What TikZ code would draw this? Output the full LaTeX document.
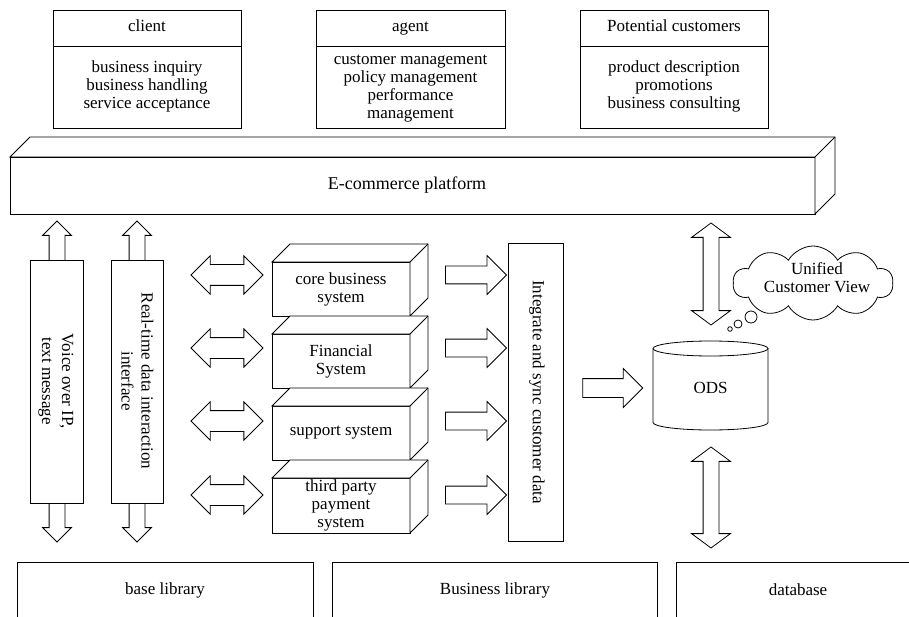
\documentclass[tikz,border=0pt]{standalone}
\usepackage{fontspec}
\setmainfont{Liberation Serif}
\usetikzlibrary{shapes.arrows,shapes.symbols}

% front face as a named node, top and right faces drawn from its anchors
\newcommand\prismbox[6]{%
  \node[frame, minimum width=#4, minimum height=#5] (#1) at (#2,#3) {};
  \draw[fill=white] (#1.north west) -- ++(#6,-#6) -- ++(#4,0) -- ++(0,#5)
        -- (#1.south east) -- (#1.north east) -- cycle;
  \draw (#1.north east) -- ++(#6,-#6);
}

\begin{document}
\begin{tikzpicture}[x=1pt, y=-1pt, line width=0.8pt,
  every node/.style={font=\fontsize{17pt}{18pt}\selectfont, align=center,
                     inner sep=0pt, outer sep=0pt},
  frame/.style={draw, fill=white},
  head/.style={anchor=base},
  vertlabel/.style={rotate=-90, font=\fontsize{17pt}{20pt}\selectfont},
  % block arrows: the shaft is half inner ysep wide on each side of the axis
  twoway/.style={draw, fill=white, double arrow, double arrow tip angle=90},
  oneway/.style={draw, fill=white, single arrow, single arrow tip angle=90},
]
\useasboundingbox (0,0) rectangle (909,617);

% ---- user groups ----
\node[frame, minimum width=188, minimum height=118] (client) at (147,69) {};
\draw (client.north west) ++(0,36) -- ++(188,0);
\node[head] (clientT) at (147,32) {client};
\node (clientB) at (147,86.5) {business inquiry\\business handling\\service acceptance};

\node[frame, minimum width=189, minimum height=118] (agent) at (410.5,69) {};
\draw (agent.north west) ++(0,36) -- ++(189,0);
\node[head] (agentT) at (410.5,32) {agent};
\node (agentB) at (410.5,89) {customer management\\policy management\\performance\\management};

\node[frame, minimum width=188, minimum height=118] (prospect) at (674,69) {};
\draw (prospect.north west) ++(0,36) -- ++(188,0);
\node[head] (prospectT) at (674,32) {Potential customers};
\node (prospectB) at (674,86.5) {product description\\promotions\\business consulting};

% ---- platform ----
\prismbox{platform}{412.5}{185.5}{805}{57}{20}
\node[font=\fontsize{18pt}{20pt}\selectfont] (platformT) at (407,185) {E-commerce platform};

% ---- channel arrows on the left ----
\node[twoway, rotate=90, minimum height=321, minimum width=28, inner ysep=7.5,
      double arrow head extend=6.5] (voipA) at (57,381.5) {};
\node[frame, minimum width=53, minimum height=243] (voip) at (56.5,381.5) {};
\node[vertlabel] (voipT) at (56,381) {Voice over IP,\\text message};

\node[twoway, rotate=90, minimum height=321, minimum width=28, inner ysep=7.5,
      double arrow head extend=6.5] (rtA) at (137,381.5) {};
\node[frame, minimum width=52, minimum height=243] (rt) at (137,381.5) {};
\node[vertlabel] (rtT) at (137.5,381) {Real-time data interaction\\interface};

% ---- business systems ----
\prismbox{core}{341}{289}{138}{54}{18}
\node (coreT) at (core.center) {core business\\system};
\prismbox{fin}{341}{361}{138}{54}{18}
\node (finT) at (fin.center) {Financial\\System};
\prismbox{sup}{341}{433}{138}{54}{18}
\node (supT) at (sup.center) {support system};
\prismbox{pay}{341}{505.5}{138}{55}{18}
\node (payT) at (pay.center) {third party\\payment\\system};

% two-way arrows into the systems, one-way arrows out of them
\foreach \yy/\nm in {275/a, 348/b, 421/c, 495/d}{
  \node[twoway, minimum height=72, minimum width=37.5, inner ysep=10,
        double arrow head extend=8.75] (in\nm) at (227,\yy) {};
  \node[oneway, minimum height=61, minimum width=38, inner ysep=8.5,
        single arrow head extend=10.5] (out\nm) at (471.5,\yy) {};
}

% ---- integration ----
\node[frame, minimum width=55, minimum height=298] (integ) at (535.5,392) {};
\node[rotate=-90] (integT) at (537,392) {Integrate and sync customer data};

\node[oneway, minimum height=60, minimum width=38, inner ysep=9,
      single arrow head extend=10] (toods) at (608,388) {};

% ---- ODS ----
\draw[fill=white] (653,348.5) -- (653,422.5)
      arc[start angle=180, end angle=360, x radius=57.5pt, y radius=7.5pt]
      -- (768,348.5);
\draw[fill=white] (710.5,348.5) ellipse[x radius=57.5pt, y radius=7.5pt];
\node (ods) at (710.5,388) {ODS};

\node[twoway, double arrow tip angle=107, rotate=90, inner ysep=7.5,
      minimum height=102, minimum width=38, double arrow head extend=11.5]
      (odsup) at (711,274) {};
\node[twoway, double arrow tip angle=107, rotate=90, inner ysep=7.5,
      minimum height=101, minimum width=38, double arrow head extend=11.5]
      (odsdown) at (711,497.5) {};

% thought cloud
\node[draw, cloud, cloud puffs=10, cloud puff arc=120, aspect=2.2,
      minimum width=160, minimum height=74] (cloud) at (813,283) {};
\node (cloudT) at (817,278) {Unified\\Customer View};
\draw (751,317) circle[radius=6pt];
\draw (738,324) circle[radius=4pt];
\draw (730,329) circle[radius=2.3pt];

% ---- storage layers ----
\draw (17,617) -- (17,562) -- (313,562) -- (313,617);
\draw (332,617) -- (332,562) -- (657,562) -- (657,617);
\draw (676,617) -- (676,562) -- (909,562);
\node (baseT) at (165,590) {base library};
\node (busT) at (495,590) {Business library};
\node (dbT) at (798,590) {database};
\end{tikzpicture}
\end{document}
